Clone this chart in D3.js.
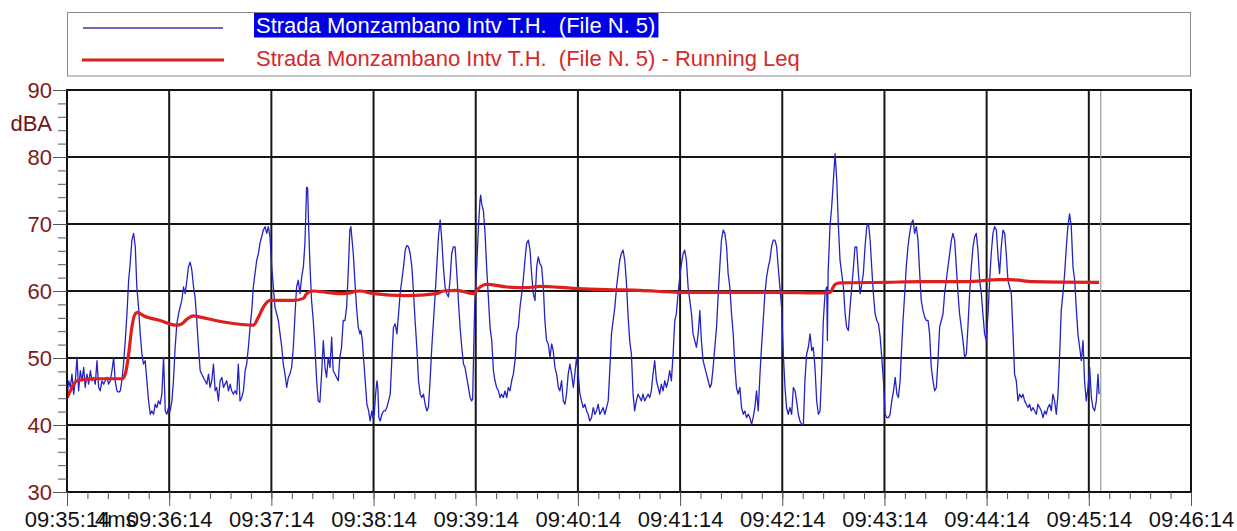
<!DOCTYPE html>
<html><head><meta charset="utf-8">
<script src="https://cdn.jsdelivr.net/npm/d3@7"></script>
<style>
body{margin:0;background:#fff}
svg{display:block}
text{font-family:"Liberation Sans",Arial,Helvetica,sans-serif}
</style>
</head><body>
<svg id="chart" width="1237" height="531"></svg>
<script>
// ---------------- DATA ----------------
const xTickSeconds = [0,60,120,180,240,300,360,420,480,540,600,660];
const xTickLabels = ["09:35:14","09:36:14","09:37:14","09:38:14","09:39:14","09:40:14","09:41:14","09:42:14","09:43:14","09:44:14","09:45:14","09:46:14"];
const xExtraLabel = "4ms";
const yTicks = [30,40,50,60,70,80,90];
const yUnit = "dBA";
const yUnitLevel = 85;
const legendLabels = ["Strada Monzambano Intv T.H.  (File N. 5)", "Strada Monzambano Intv T.H.  (File N. 5) - Running Leq"];
const cursorSecond = 607;

// instantaneous level: [seconds after 09:35:14, dBA]
const instantLevel = [
[0,44.1],[1.0,46.6],[2.0,45.6],[2.9,47.6],[3.9,44.6],[4.9,46.6],[5.9,50.1],[6.8,45.1],[7.8,48.1],[8.8,46.6],[9.8,48.6],[10.7,45.6],[11.7,47.6],[12.7,46.1],[13.7,48.1],[14.7,46.6],[15.6,47.1],[16.6,46.1],[17.6,49.6],[18.6,45.6],[19.5,45.1],[20.5,46.6],[21.5,46.1],[22.5,46.6],[23.5,47.1],[24.4,46.1],[25.4,46.6],[26.4,48.1],[27.4,50.1],[28.3,46.6],[29.3,45.1],[30.3,44.9],[31.3,45.1],[32.2,46.6],[33.2,49.1],[34.2,52.6],[35.2,56.6],[36.2,61.6],[37.1,64.1],[38.1,67.6],[39.1,68.6],[40.1,66.6],[41.0,60.6],[42.0,57.6],[43.0,53.6],[44.0,50.6],[44.9,49.1],[45.9,49.6],[46.9,46.6],[47.9,43.6],[48.9,41.6],[49.8,42.1],[50.8,41.6],[51.8,43.1],[52.8,42.6],[53.7,43.6],[54.7,43.1],[55.7,44.6],[56.7,50.1],[57.7,42.1],[58.6,41.6],[59.6,42.6],[60.6,42.1],[61.6,43.6],[62.5,46.6],[63.5,51.6],[64.5,55.1],[65.5,56.6],[66.4,57.6],[67.4,58.6],[68.4,60.6],[69.4,59.6],[70.4,61.6],[71.3,63.6],[72.3,64.3],[73.3,63.1],[74.3,60.6],[75.2,59.1],[76.2,55.6],[77.2,51.6],[78.2,48.1],[79.1,47.6],[80.1,47.1],[81.1,46.6],[82.1,46.1],[83.1,47.6],[84.0,45.6],[85.0,46.6],[86.0,49.1],[87.0,45.1],[87.9,45.6],[88.9,43.6],[89.9,46.6],[90.9,47.1],[91.9,45.6],[92.8,46.1],[93.8,46.6],[94.8,45.1],[95.8,46.1],[96.7,45.1],[97.7,44.6],[98.7,45.1],[99.7,44.6],[100.6,49.1],[101.6,43.6],[102.6,44.1],[103.6,45.1],[104.6,48.1],[105.5,49.1],[106.5,51.6],[107.5,54.6],[108.5,57.1],[109.4,60.6],[110.4,62.6],[111.4,64.6],[112.4,65.6],[113.3,67.1],[114.3,68.1],[115.3,69.1],[116.3,69.6],[117.3,68.6],[118.2,69.6],[119.2,68.1],[120.2,63.6],[121.2,60.6],[122.1,57.6],[123.1,56.6],[124.1,55.6],[125.1,53.6],[126.1,51.6],[127.0,49.1],[128.0,47.6],[129.0,45.6],[130.0,47.1],[130.9,47.6],[131.9,48.6],[132.9,51.6],[133.9,56.6],[134.8,60.6],[135.8,61.6],[136.8,59.6],[137.8,62.1],[138.8,63.6],[139.7,67.1],[140.7,75.5],[141.3,75.3],[141.9,69.6],[142.7,63.6],[143.6,58.6],[144.6,55.6],[145.6,51.6],[146.6,46.6],[147.5,43.6],[148.5,43.4],[149.5,47.6],[150.5,52.6],[151.5,48.6],[152.4,47.1],[153.4,50.1],[154.4,48.6],[155.4,53.1],[156.3,48.1],[157.3,47.6],[158.3,47.1],[159.3,46.6],[160.2,50.1],[161.2,51.6],[162.2,55.6],[163.2,55.6],[164.2,57.6],[165.1,62.6],[166.1,69.1],[166.7,69.6],[168.1,65.6],[169.0,61.6],[170.0,57.6],[171.0,54.6],[172.0,53.6],
[172.6,54.1],[173.4,52.6],[174.1,50.1],[175.1,46.6],[176.1,43.1],[177.1,42.1],[178.0,40.6],[179.0,42.1],[179.6,41.1],[180.4,41.6],[181.2,44.6],[182.0,46.6],[182.5,45.6],[183.1,41.1],[183.9,40.6],[184.9,41.6],[185.9,42.1],[186.8,42.1],[187.8,42.6],[188.8,43.6],[189.8,44.6],[190.7,49.6],[191.7,54.6],[192.7,55.1],[193.7,53.6],[194.7,56.6],[195.6,59.6],[196.6,61.6],[197.6,63.6],[198.6,66.1],[199.5,66.8],[200.5,66.6],[201.5,65.6],[202.5,63.6],[203.5,59.6],[204.4,55.6],[205.4,51.6],[206.4,46.6],[207.4,44.6],[208.3,44.1],[209.3,44.6],[210.3,43.1],[211.3,42.1],[212.2,42.6],[213.2,46.6],[214.2,51.6],[215.2,55.6],[216.2,59.6],[217.1,63.6],[218.1,68.1],[219.1,70.6],[220.1,67.6],[221.0,63.6],[222.0,60.6],[223.0,59.6],[224.0,59.1],[224.9,61.6],[225.9,65.6],[226.9,66.6],[227.9,66.6],[228.9,62.6],[229.8,58.6],[230.8,54.6],[231.8,51.6],[232.8,49.1],[233.7,48.6],[234.7,47.1],[235.7,45.6],[236.7,44.1],[237.6,43.6],[238.2,43.9],[239.4,58.1],[240.6,63.6],[241.6,69.6],[242.5,73.5],[242.9,74.3],[243.5,73.0],[244.5,72.0],[245.5,68.6],[246.4,63.6],[247.4,59.1],[248.4,54.6],[249.4,52.6],[250.4,48.1],[251.3,46.6],[252.3,45.6],[253.3,45.1],[254.3,44.1],[255.2,44.6],[256.2,44.1],[257.2,45.1],[258.2,44.1],[259.1,45.6],[260.1,45.1],[261.1,46.6],[262.1,47.6],[263.1,49.6],[264.0,53.6],[265.0,54.6],[266.0,57.6],[267.0,59.6],[267.9,61.6],[268.9,64.6],[269.9,67.1],[270.9,67.6],[271.9,66.1],[272.8,62.6],[273.8,59.6],[274.8,58.6],[275.8,63.6],[276.7,65.1],[277.7,64.1],[278.7,63.6],[279.7,60.6],[280.6,55.6],[281.6,52.6],[282.6,52.1],[283.6,50.1],[284.6,52.1],[285.5,51.1],[286.5,48.6],[287.5,47.6],[288.5,45.6],[289.4,45.1],[290.4,46.6],[291.4,43.6],[292.4,43.1],[293.3,44.6],[294.3,47.6],[295.3,49.1],[296.3,47.6],[297.3,45.6],[298.2,47.6],[299.2,50.1],[300.2,47.6],[301.2,44.6],[302.1,43.6],[303.1,42.6],[304.1,43.1],[305.1,42.1],[306.0,41.6],[307.0,40.6],[308.0,41.1],[309.0,42.6],[310.0,41.6],[310.9,42.1],[311.9,43.1],[312.9,41.6],[313.9,42.1],[314.8,42.6],[315.8,41.6],[316.8,42.6],[317.8,43.6],[318.8,48.6],[319.7,53.6],[320.7,55.6],[321.7,57.6],[322.7,60.6],[323.6,62.6],[324.6,64.6],
[325.5,65.6],[326.5,66.1],[327.5,64.6],[328.4,61.6],[329.4,56.6],[330.4,52.6],[331.4,50.6],[332.4,44.6],[333.3,42.1],[334.3,43.6],[335.3,44.6],[336.3,44.1],[337.3,43.6],[338.2,44.6],[339.2,43.6],[340.2,44.1],[341.2,44.6],[342.2,44.1],[343.1,45.1],[344.1,47.6],[345.1,49.6],[346.1,46.6],[347.1,45.6],[348.0,44.6],[349.0,46.1],[350.0,45.1],[351.0,46.6],[352.0,45.6],[352.9,46.6],[353.9,48.1],[354.9,46.6],[355.9,50.6],[356.9,55.6],[357.8,56.6],[358.8,59.6],[359.8,62.1],[360.8,64.1],[361.8,65.6],[362.7,66.1],[363.7,64.6],[364.7,60.6],[365.7,58.6],[366.7,56.6],[367.6,53.6],[368.6,52.6],[369.6,51.6],[370.6,53.6],[371.6,57.1],[372.5,52.6],[373.5,49.6],[374.5,48.6],[375.5,47.6],[376.5,46.6],[377.5,45.6],[378.4,46.1],[379.4,48.6],[380.4,51.6],[381.4,54.6],[382.4,59.6],[383.3,63.6],[384.3,67.6],[385.3,69.1],[386.3,68.6],[387.3,66.6],[388.2,62.6],[389.2,60.6],[390.2,56.6],[391.2,53.6],[392.2,48.6],[393.1,45.6],[394.1,44.6],[395.1,45.6],[396.1,42.6],[397.1,41.6],[398.0,42.1],[399.0,41.1],[400.0,41.6],[401.0,41.1],[402.0,40.1],[402.9,41.1],[403.9,42.6],[404.9,45.1],[405.9,42.1],[406.9,47.6],[407.8,51.6],[408.8,55.6],[409.8,59.6],[410.8,62.1],[411.8,63.6],[412.7,64.6],[413.7,66.6],[414.7,67.6],[415.7,67.6],[416.7,66.6],[417.6,63.6],[418.6,60.6],[419.6,57.6],[420.6,50.6],[421.6,45.6],[422.5,42.6],[423.5,41.6],[424.5,42.6],[425.5,41.6],[426.5,45.6],[427.5,45.1],[428.4,43.6],[429.4,41.6],[430.4,40.6],[431.4,40.1],[432.4,40.1],[433.3,46.6],[434.3,50.6],[435.3,51.6],[436.3,53.6],[437.3,51.1],[438.2,51.6],[439.2,48.6],[440.2,43.6],[441.2,41.6],[442.2,42.1],[443.1,47.6],[444.1,55.6],[445.1,59.6],[446.1,60.6],[446.5,52.6],[446.9,62.6],[448.0,69.6],[449.0,72.5],[450.0,76.5],[451.0,80.5],[452.0,76.5],[452.9,70.0],[453.9,64.6],[454.9,62.6],[455.9,60.6],[456.9,56.6],[457.8,54.6],[458.8,54.1],[459.8,57.6],[460.8,60.6],[461.8,63.6],[462.7,66.6],[463.7,66.6],[464.7,62.6],[465.7,59.6],[466.7,61.1],[467.6,62.6],[468.6,66.6],[469.6,69.6],[470.6,70.1],[471.6,67.6],[472.5,63.6],[473.5,59.6],[474.5,56.6],[475.5,55.6],[476.5,55.1],[477.5,53.1],[478.4,50.1],[479.4,46.6],[480.4,41.6],[481.4,41.1],[482.4,41.1],[483.3,41.6],[484.3,43.6],[485.3,45.1],[486.3,47.1],[487.3,44.6],[488.2,44.1],[489.2,46.6],
[489.9,50.6],[490.9,55.6],[491.9,59.6],[492.8,63.6],[493.8,66.6],[494.8,68.6],[495.8,70.1],[496.8,70.6],[497.7,68.6],[498.7,69.6],[499.7,67.6],[500.7,62.6],[501.6,58.6],[502.6,57.1],[503.6,56.1],[504.6,55.6],[505.6,55.6],[506.5,53.6],[507.5,48.6],[508.5,46.6],[509.5,45.1],[510.5,45.6],[511.4,49.6],[512.4,54.6],[513.4,55.6],[514.4,56.6],[515.3,59.6],[516.3,61.6],[517.3,63.6],[518.3,65.6],[519.3,67.6],[520.2,68.6],[521.2,67.6],[522.2,63.6],[523.2,59.6],[524.1,56.6],[525.1,54.6],[526.1,52.6],[527.1,50.1],[528.1,50.6],[529.0,54.6],[530.0,59.6],[531.0,63.6],[532.0,66.6],[533.0,68.1],[533.9,68.6],[534.9,66.1],[535.9,61.6],[536.9,59.6],[537.8,56.6],[538.8,53.6],[539.8,52.6],[540.8,56.6],[541.8,61.6],[542.7,65.6],[543.7,68.6],[544.7,69.6],[545.7,69.1],[546.7,65.1],[547.6,62.6],[548.6,66.6],[549.6,69.1],[550.6,68.6],[551.5,65.6],[552.5,61.6],[553.5,60.6],[554.5,59.6],[555.5,53.6],[556.4,47.6],[557.4,46.6],[558.4,43.6],[559.4,44.6],[560.4,44.1],[561.3,44.6],[562.3,43.6],[563.3,43.1],[564.3,42.6],[565.2,43.1],[566.2,42.1],[567.2,42.6],[568.2,42.1],[569.2,41.6],[570.1,43.1],[571.1,42.6],[572.1,42.1],[573.1,41.1],[574.1,42.1],[575.0,41.6],[576.0,42.6],[577.0,43.1],[578.0,42.1],[578.9,44.6],[579.9,43.6],[580.9,41.6],[581.9,44.6],[582.9,50.6],[583.8,57.1],[584.8,59.6],[585.8,62.6],[586.8,66.6],[587.7,69.6],[588.7,71.5],[589.7,69.6],[590.7,63.6],[591.7,61.6],[592.6,57.6],[593.6,53.6],[594.6,51.6],[595.6,49.6],[596.6,52.6],[597.5,46.6],[598.5,43.6],[599.5,45.6],[600.5,48.6],[601.5,44.1],[602.4,42.6],[603.4,42.1],[604.4,43.6],[605.4,47.6],[606.0,44.6]
];

// running Leq: [seconds after 09:35:14, dBA]
const runningLeq = [
[0,44.1],[2.0,45.1],[3.9,46.1],[5.9,46.6],[15.6,46.9],[32.2,46.9],[34.2,47.6],[36.2,50.6],[38.1,54.6],[40.1,56.6],[41.4,56.8],[44.9,56.3],[54.7,55.6],[64.5,54.9],[67.4,55.1],[70.4,55.8],[74.3,56.3],[78.2,56.1],[93.8,55.3],[109.4,54.9],[112.4,56.1],[115.3,57.6],[119.2,58.6],[132.9,58.6],[138.8,58.9],[140.7,59.6],[144.6,60.0],[152.4,59.8],[162.2,59.6],[172.0,60.0],[180,59.6],[199.5,59.3],[217.1,59.6],[221.0,60.0],[228.9,60.1],[238.6,59.6],[242.5,60.6],[246.4,61.0],[258.2,60.6],[269.9,60.5],[277.7,60.7],[297.3,60.4],[316.8,60.2],[336.3,60.1],[359.8,59.8],[383.3,59.8],[418.6,59.8],[442.2,59.7],[448.0,59.8],[451.0,61.0],[453.9,61.2],[481.4,61.3],[501.0,61.4],[528.1,61.4],[547.6,61.7],[553.5,61.7],[567.2,61.4],[606.0,61.3]
];

// ---------------- CHART ----------------
const svg = d3.select("#chart");
const plot = {left: 67, right: 1191, top: 90, bottom: 492};
const x = d3.scaleLinear().domain([xTickSeconds[0], xTickSeconds[xTickSeconds.length-1]]).range([plot.left, plot.right]);
const y = d3.scaleLinear().domain([yTicks[0], yTicks[yTicks.length-1]]).range([plot.bottom, plot.top]);

svg.append("rect").attr("width",1237).attr("height",531).attr("fill","#fff");

// legend
const lg = svg.append("g");
lg.append("rect").attr("x",67.5).attr("y",12.5).attr("width",1123).attr("height",63.5)
  .attr("fill","#fff").attr("stroke","#8a8a8a").attr("stroke-width",1);
lg.append("line").attr("x1",83).attr("x2",223).attr("y1",28).attr("y2",28)
  .attr("stroke","#3a3ab0").attr("stroke-width",1.3);
lg.append("line").attr("x1",82).attr("x2",224).attr("y1",60).attr("y2",60)
  .attr("stroke","#e01e1e").attr("stroke-width",3.2);
const t1 = lg.append("text").attr("x",256).attr("y",33).attr("font-size",22)
  .attr("fill","#fff").attr("xml:space","preserve").style("white-space","pre").text(legendLabels[0]);
const bb = t1.node().getBBox();
lg.insert("rect", "text").attr("x",254).attr("y",13).attr("width",bb.width+5).attr("height",24.5).attr("fill","#0000e6");
lg.append("text").attr("x",256).attr("y",65.5).attr("font-size",22)
  .attr("fill","#d42a2a").attr("xml:space","preserve").style("white-space","pre").text(legendLabels[1]);

// grid
const grid = svg.append("g").attr("stroke","#161616").attr("stroke-width",2);
grid.selectAll("line.v").data(xTickSeconds.slice(1,-1)).join("line")
  .attr("x1",d=>x(d)).attr("x2",d=>x(d)).attr("y1",plot.top).attr("y2",plot.bottom);
grid.selectAll("line.h").data(yTicks.slice(1,-1)).join("line")
  .attr("y1",d=>y(d)).attr("y2",d=>y(d)).attr("x1",plot.left).attr("x2",plot.right);

// cursor line
svg.append("line").attr("x1",x(cursorSecond)).attr("x2",x(cursorSecond))
  .attr("y1",plot.top).attr("y2",plot.bottom).attr("stroke","#9a9a9a").attr("stroke-width",1.2);

// clip
svg.append("clipPath").attr("id","clip").append("rect")
  .attr("x",plot.left).attr("y",plot.top).attr("width",plot.right-plot.left).attr("height",plot.bottom-plot.top);

// instantaneous line
svg.append("path").datum(instantLevel).attr("clip-path","url(#clip)")
  .attr("fill","none").attr("stroke","#2424c4").attr("stroke-width",1.3).attr("stroke-linejoin","round")
  .attr("d", d3.line().x(d=>x(d[0])).y(d=>y(d[1])));

// running Leq
svg.append("path").datum(runningLeq).attr("clip-path","url(#clip)")
  .attr("fill","none").attr("stroke","#e01e1e").attr("stroke-width",3.2).attr("stroke-linejoin","round")
  .attr("d", d3.line().curve(d3.curveMonotoneX).x(d=>x(d[0])).y(d=>y(d[1])));

// frame
svg.append("rect").attr("x",plot.left).attr("y",plot.top).attr("width",plot.right-plot.left).attr("height",plot.bottom-plot.top)
  .attr("fill","none").attr("stroke","#111").attr("stroke-width",2);

// y axis
const yMinor = d3.range(yTicks[0], yTicks[yTicks.length-1]+0.1, 2);
const yMin = svg.append("g").attr("transform",`translate(${plot.left},0)`)
  .call(d3.axisLeft(y).tickValues(yMinor).tickSize(9).tickFormat(""));
const yMaj = svg.append("g").attr("transform",`translate(${plot.left},0)`)
  .call(d3.axisLeft(y).tickValues(yTicks).tickSize(14).tickPadding(1).tickFormat(d=>d));
[yMin,yMaj].forEach(g=>{g.select(".domain").remove(); g.selectAll("line").attr("stroke","#555");});
yMaj.selectAll("text").attr("font-size",22).attr("fill","#7e1a1a").attr("font-family",'"Liberation Sans",Arial,sans-serif');
svg.append("text").attr("x",52).attr("y",y(yUnitLevel)).attr("dy","0.35em").attr("text-anchor","end")
  .attr("font-size",22).attr("fill","#6e1414").text(yUnit);

// x axis
const xMinor = d3.range(xTickSeconds[0], xTickSeconds[xTickSeconds.length-1]+0.1, 12);
const xMin = svg.append("g").attr("transform",`translate(0,${plot.bottom})`)
  .call(d3.axisBottom(x).tickValues(xMinor).tickSize(7).tickFormat(""));
const xMaj = svg.append("g").attr("transform",`translate(0,${plot.bottom})`)
  .call(d3.axisBottom(x).tickValues(xTickSeconds).tickSize(14).tickFormat((d,i)=>xTickLabels[i]));
[xMin,xMaj].forEach(g=>{g.select(".domain").remove(); g.selectAll("line").attr("stroke","#555");});
xMaj.selectAll("text").attr("font-size",22).attr("fill","#111").attr("y",35).attr("dy",0)
  .attr("font-family",'"Liberation Sans",Arial,sans-serif');
svg.append("text").attr("x",x(xTickSeconds[0])+28).attr("y",plot.bottom+35)
  .attr("font-size",22).attr("fill","#111").text(xExtraLabel);
</script>
</body></html>
